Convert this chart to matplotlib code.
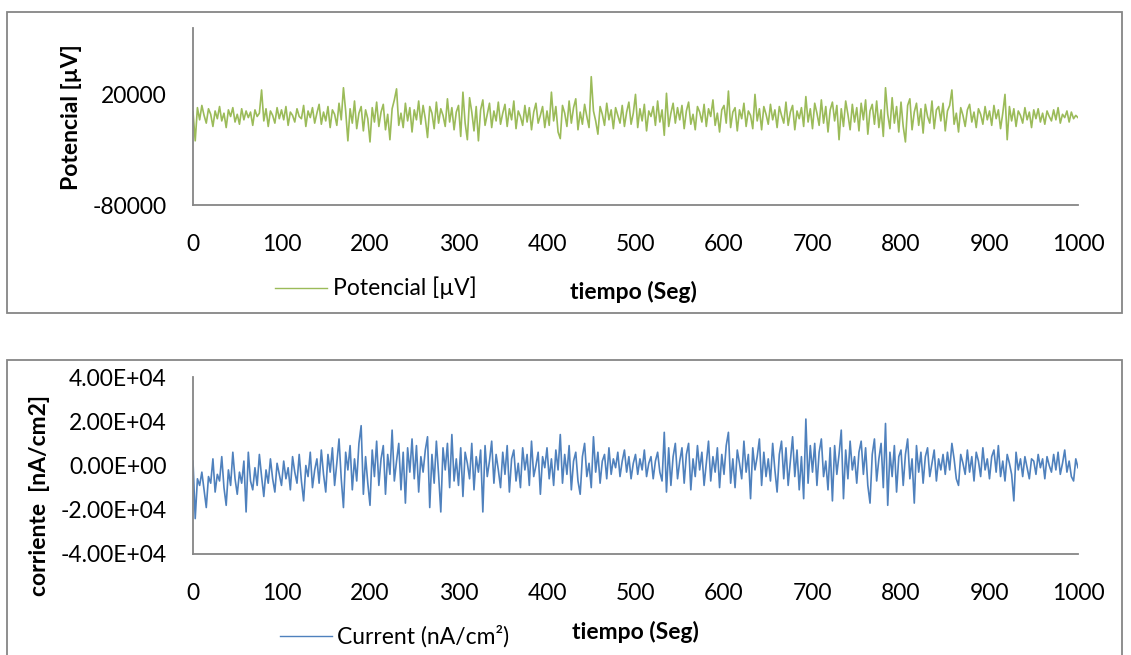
import numpy as np
import matplotlib
matplotlib.use("Agg")
import matplotlib.pyplot as plt
from matplotlib.patches import Rectangle

plt.rcParams['font.family'] = ['Lato', 'DejaVu Sans']

potencial_k = [
    4, -22, 8, -3, 10, 1, -6, 7, 2, -9, 5, -2, 9, -4, 3, -10, 6, 0, 8, -5,
    2, -7, 7, -3, 5, -1, 4, -8, 6, 0, 3, 24, -4, 7, -9, 5, 1, -6, 8, -2,
    6, -3, 9, -8, 4, 1, -5, 7, 0, -2, 10, -9, 5, -1, 8, -6, 3, 11, -7, 4,
    -4, 9, -10, 6, 2, -8, 12, -3, 26, 5, -22, 7, -6, 14, -11, 3, 9, -13, 6, -2,
    -23, 8, -5, 13, -9, 4, 11, -12, 2, -21, 7, 15, 25, -8, 3, -10, 12, -4, 8, -14,
    6, -3, 14, -7, 10, -2, -19, 9, 3, -11, 13, -6, 7, 1, -9, 16, -5, 8, -12, 4,
    10, -18, 22, -6, -21, 17, 4, -13, 9, -22, 6, 15, -8, 2, 12, -10, 5, -4, 13, -7,
    3, 11, -9, 7, -3, 14, -11, 5, 0, -8, 10, -5, 8, -12, 4, 12, -6, 1, 9, -10,
    5, -8, 22, -4, 9, -14, -20, 10, 3, -9, 14, -6, 8, 16, -12, 4, -7, 11, 0, -10,
    36, 5, -4, -16, 9, 2, -8, 12, -3, 6, -11, 8, 1, -6, 10, -9, 4, 13, -7, 3,
    20, -10, 7, -4, 11, -13, 5, 0, 9, -8, 14, -5, 6, -17, 21, -9, 3, 12, -6, 8,
    -3, 10, -11, 5, 13, -7, 2, -12, 9, 4, -5, 11, -9, 7, 0, 15, -8, 3, -14, 6,
    10, -6, 23, -10, 4, 8, -13, 6, -2, 12, -9, 5, 1, -11, 20, -4, 7, -12, 9, 2,
    -7, 11, -3, 6, -10, 9, 1, -6, 13, -8, 4, 10, -12, 5, -2, 8, -9, 18, -5, 7,
    -11, 12, 3, -8, 15, -6, 9, -14, 6, 13, -4, 10, -21, 7, -9, 14, 2, -12, 11, -5,
    8, -13, 12, -3, 15, -16, 5, 11, -7, 14, -10, 6, -18, 26, 2, -11, 17, -6, 9, -14,
    13, -9, -23, 10, 16, -12, 4, 12, -8, 7, -15, 11, 0, -6, 14, -11, 6, 9, -4, 12,
    -13, 5, 10, 24, -7, 3, -14, 8, 1, -9, 6, 11, -5, 4, -10, 7, 2, -7, 9, -3,
    5, -8, 10, -2, 6, -11, 3, 20, -21, 9, -4, 7, -9, 5, 1, -6, 8, -3, 4, -10,
    6, -2, 7, -5, 3, -7, 5, 0, -4, 6, -3, 8, -6, 2, -1, 5, -5, 4, -2, 1, -1,
]

corriente_k = [
    2, -24, -6, -9, -3, -11, -19, -5, -8, 3, -12, -4, -7, 4, -10, -18, -2, -9, 6, -6,
    -13, -3, -8, 2, -21, 6, -7, -11, -1, -9, 5, -5, -14, -2, -8, 3, -6, -12, 1, -4,
    -9, 2, -6, -1, -11, 4, -3, -8, 5, -7, -16, 0, -5, 6, -10, -2, 3, -8, 7, -4,
    -12, 5, -3, 8, -9, 1, 12, -6, -19, 6, -2, 9, -11, 3, -7, 10, 18, -13, 4, -8,
    -18, 7, -5, 11, -9, 3, 9, -13, 5, -4, 16, -7, 2, 10, -11, 6, -17, 8, -3, 12,
    -6, 9, -12, 4, -3, 7, 13, -19, 5, -8, 11, -4, -21, 8, -2, 10, -10, 14, -7, 3,
    -9, 8, -14, 6, 1, -6, 10, -11, 4, -3, 7, -21, 9, -5, 2, 11, -8, 5, -2, -10,
    6, -4, 9, -12, 3, 7, -7, 1, -10, 8, -2, 5, -9, 11, -5, 0, 6, -13, 4, -1,
    8, -6, 3, -9, 7, -2, 14, -8, 5, -4, 9, -11, 2, 6, -7, -13, 4, 10, -5, 1,
    -10, 13, -3, 6, -8, 2, 5, -6, 8, -4, 3, -1, 6, -5, 2, 7, -3, 4, -6, 1,
    5, -4, 3, -2, 7, -5, 1, 4, -6, 2, 6, -3, -7, 15, -12, 8, -9, 4, 10, -6,
    2, 8, -8, 5, 10, -11, 3, -5, 9, -2, 6, -9, 1, 11, -7, 4, -3, 8, -10, 5,
    -4, 9, 15, -8, 3, -10, 7, 1, -6, 11, -3, 5, -15, 8, -2, 4, 12, -9, 6, -5,
    3, -7, 10, -2, -12, 5, 11, -6, 8, -9, 2, 13, -5, 7, -11, 4, -15, 21, -8, 9,
    -3, 10, -9, 6, 12, -5, 2, -11, 8, -16, 9, -4, 5, 16, -15, 7, -6, 11, -2, 4,
    -8, 6, 11, -4, 8, -9, -17, 5, 12, -7, 3, 10, -10, 19, -18, 6, -5, 9, -12, 4,
    7, -9, 5, 12, -6, 3, -17, 9, -3, 6, -8, 4, 8, -5, 1, 7, -7, 3, -2, 5,
    -4, 6, -2, 10, 3, -6, -9, 5, 1, -4, 7, -3, 4, -7, 6, 2, -5, 8, -2, 3,
    -6, 4, 7, -3, 9, -5, 2, -7, 5, 1, -4, -16, 6, -2, 3, -5, 4, -1, -6, 3,
    2, -4, 5, -1, 3, -6, 4, 0, -3, 5, -2, 6, -4, 1, 7, -3, 2, -5, -7, 3, -1,
]

potencial = np.array(potencial_k) * 1000.0
corriente = np.array(corriente_k) * 1000.0
t_pot = np.linspace(0, 1000, len(potencial))
t_cur = np.linspace(0, 1000, len(corriente))

x_ticks = [0, 100, 200, 300, 400, 500, 600, 700, 800, 900, 1000]
y_ticks_pot = [-80000, 20000]
y_ticks_cur = [-40000, -20000, 0, 20000, 40000]
y_labels_cur = ["-4.00E+04", "-2.00E+04", "0.00E+00", "2.00E+04", "4.00E+04"]

GREEN = "#9BBB59"
BLUE = "#4F81BD"
GRAY = "#868686"
W, H = 1131, 655

fig = plt.figure(figsize=(W / 100, H / 100), dpi=100)

def fx(px):
    return px / W

def fy(py):
    return 1 - py / H

# chart frames (bottom frame runs past the picture edge)
for top, bot in [(12, 313), (360, 660)]:
    fig.patches.append(Rectangle((fx(7), fy(bot)), fx(1122) - fx(7), fy(top) - fy(bot),
                                 transform=fig.transFigure, fill=False,
                                 edgecolor=GRAY, linewidth=1.3))

def style(ax):
    for s in ['top', 'right']:
        ax.spines[s].set_visible(False)
    for s in ['left', 'bottom']:
        ax.spines[s].set_color(GRAY)
        ax.spines[s].set_linewidth(1.3)
    ax.tick_params(axis='both', length=0, labelsize=16.5, colors='black')
    ax.tick_params(axis='y', pad=19)
    ax.tick_params(axis='x', pad=21)
    ax.set_xlim(0, 1000)
    ax.set_xticks(x_ticks)

# top chart
ax1 = fig.add_axes([fx(193), fy(205), fx(1078) - fx(193), fy(28) - fy(205)])
ax1.plot(t_pot, potencial, color=GREEN, lw=1.2)
ax1.set_ylim(-80000, 80000)
ax1.set_yticks(y_ticks_pot)
ax1.set_yticklabels([str(v) for v in y_ticks_pot])
style(ax1)
fig.text(fx(71), fy(117), "Potencial [µV]", rotation=90, ha='center', va='center',
         fontsize=16.5, fontweight='bold')
fig.lines.append(plt.Line2D([fx(275), fx(327)], [fy(288), fy(288)], color=GREEN,
                            lw=1.0, transform=fig.transFigure))
fig.text(fx(333), fy(288), "Potencial [µV]", ha='left', va='center', fontsize=16.5)
fig.text(fx(633), fy(292), "tiempo (Seg)", ha='center', va='center', fontsize=16.5,
         fontweight='bold')

# bottom chart
ax2 = fig.add_axes([fx(193), fy(554), fx(1078) - fx(193), fy(377) - fy(554)])
ax2.plot(t_cur, corriente, color=BLUE, lw=1.2)
ax2.set_ylim(-40000, 40000)
ax2.set_yticks(y_ticks_cur)
ax2.set_yticklabels(y_labels_cur)
style(ax2)
fig.text(fx(40), fy(495), "corriente  [nA/cm2]", rotation=90, ha='center', va='center',
         fontsize=16.5, fontweight='bold')
fig.lines.append(plt.Line2D([fx(280), fx(332)], [fy(636), fy(636)], color=BLUE,
                            lw=1.0, transform=fig.transFigure))
fig.text(fx(337), fy(636), "Current (nA/cm²)", ha='left', va='center', fontsize=16.5)
fig.text(fx(635), fy(632), "tiempo (Seg)", ha='center', va='center', fontsize=16.5,
         fontweight='bold')

fig.savefig("out.png", dpi=100)
